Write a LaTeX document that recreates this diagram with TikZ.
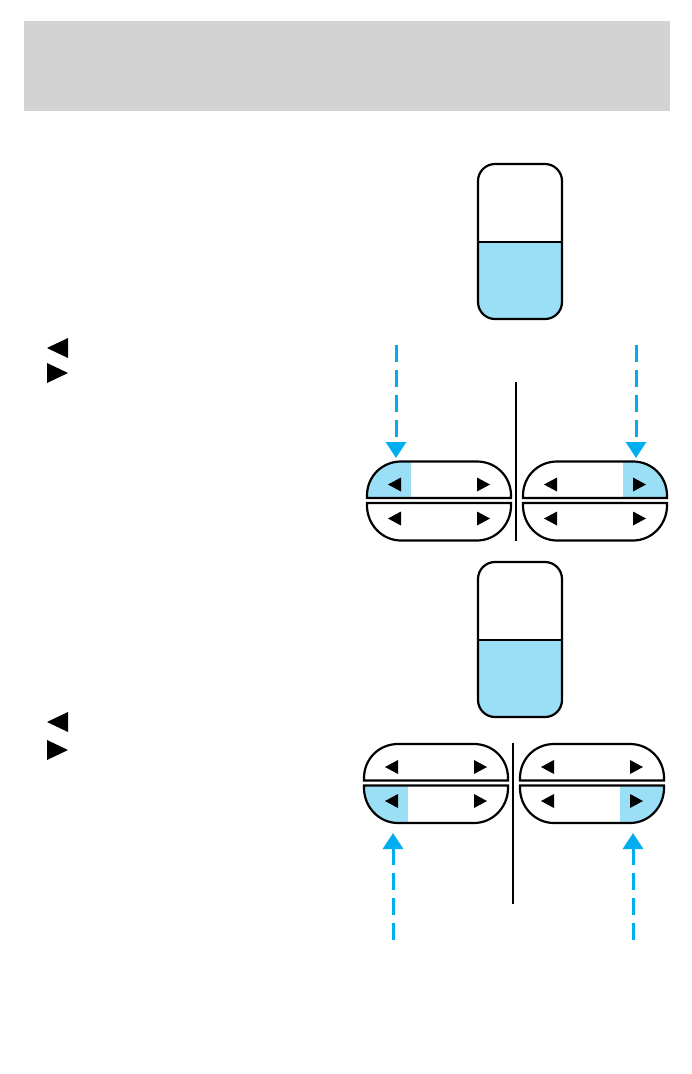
\documentclass[tikz,border=0pt]{standalone}
\usetikzlibrary{arrows.meta}
\definecolor{hdrgray}{HTML}{D3D3D3}
\definecolor{lightblue}{HTML}{9ADFF6}
\definecolor{arrowblue}{HTML}{00AEEF}
\tikzset{
  outline/.style={draw=black, line width=2.2pt},
  hlfill/.style={fill=lightblue},
  tri/.style={fill=black},
  divline/.style={draw=black, line width=2.4pt},
  bluearrow/.style={draw=arrowblue, line width=3pt, dash pattern=on 17pt off 8pt,
     -{Triangle[width=20pt,length=16pt]}, color=arrowblue},
}
\newcommand{\TopHalf}[1]{\path[#1] (0,-2.5) -- (0,-5) .. controls (0,-24) and (15,-39) .. (34,-39) -- (110,-39) .. controls (129,-39) and (144,-24) .. (144,-5) -- (144,-2.5) -- cycle;}
\newcommand{\BotHalf}[1]{\path[#1] (0,2.5) -- (144,2.5) -- (144,5) .. controls (144,24) and (129,40) .. (110,40) -- (34,40) .. controls (15,40) and (0,24) .. (0,5) -- cycle;}
\newcommand{\BtnTris}{%
  \fill[tri] (21,-16) -- (34,-23) -- (34,-9) -- cycle;
  \fill[tri] (123,-16) -- (110,-23) -- (110,-9) -- cycle;
  \fill[tri] (21,18) -- (34,11) -- (34,25) -- cycle;
  \fill[tri] (123,18) -- (110,11) -- (110,25) -- cycle;}
\newcommand{\PillGauge}[1]{%
  \begin{scope}[shift={(0,#1)}]
    \begin{scope}
      \clip[rounded corners=17pt] (478,0) rectangle (562,155);
      \fill[hlfill] (470,78) rectangle (570,160);
    \end{scope}
    \draw[black, line width=1.6pt] (478,78) -- (562,78);
    \draw[outline, rounded corners=17pt] (478,0) rectangle (562,155);
  \end{scope}}
\begin{document}
\begin{tikzpicture}[x=1pt,y=-1pt]
\useasboundingbox (0,0) rectangle (692,1074);
% header band
\fill[hdrgray] (24,21) rectangle (670,111);

% ---- upper section ----
\PillGauge{164}
\fill[tri] (47,348) -- (68,338) -- (68,358) -- cycle;
\fill[tri] (68,373) -- (47,363) -- (47,383) -- cycle;

% left switch pair (upper)
\begin{scope}[shift={(367,500.5)}]
  \begin{scope}\TopHalf{clip}\fill[hlfill] (0,-42) rectangle (44,0);\end{scope}
  \TopHalf{outline}
  \BotHalf{outline}
  \BtnTris
\end{scope}
% right switch pair (upper)
\begin{scope}[shift={(523,500.5)}]
  \begin{scope}\TopHalf{clip}\fill[hlfill] (100,-42) rectangle (146,0);\end{scope}
  \TopHalf{outline}
  \BotHalf{outline}
  \BtnTris
\end{scope}
\coordinate (vt1) at (516,382);
\coordinate (vb1) at (516,541);
\draw[divline] (vt1) -- (vb1);

\coordinate (a1s) at (396,345);
\coordinate (a1e) at (396,458);
\coordinate (a2s) at (636,345);
\coordinate (a2e) at (636,458);
\draw[bluearrow] (a1s) -- (a1e);
\draw[bluearrow] (a2s) -- (a2e);

% ---- lower section ----
\PillGauge{562}
\fill[tri] (47,722) -- (68,712) -- (68,732) -- cycle;
\fill[tri] (68,750) -- (47,740) -- (47,760) -- cycle;

% left switch pair (lower)
\begin{scope}[shift={(364,783)}]
  \begin{scope}\BotHalf{clip}\fill[hlfill] (0,0) rectangle (44,42);\end{scope}
  \TopHalf{outline}
  \BotHalf{outline}
  \BtnTris
\end{scope}
% right switch pair (lower)
\begin{scope}[shift={(520,783)}]
  \begin{scope}\BotHalf{clip}\fill[hlfill] (100,0) rectangle (146,42);\end{scope}
  \TopHalf{outline}
  \BotHalf{outline}
  \BtnTris
\end{scope}
\coordinate (vt2) at (513,743);
\coordinate (vb2) at (513,904);
\draw[divline] (vt2) -- (vb2);

\coordinate (b1s) at (393,940);
\coordinate (b1e) at (393,833);
\coordinate (b2s) at (633,940);
\coordinate (b2e) at (633,833);
\draw[bluearrow] (b1s) -- (b1e);
\draw[bluearrow] (b2s) -- (b2e);
\end{tikzpicture}
\end{document}
